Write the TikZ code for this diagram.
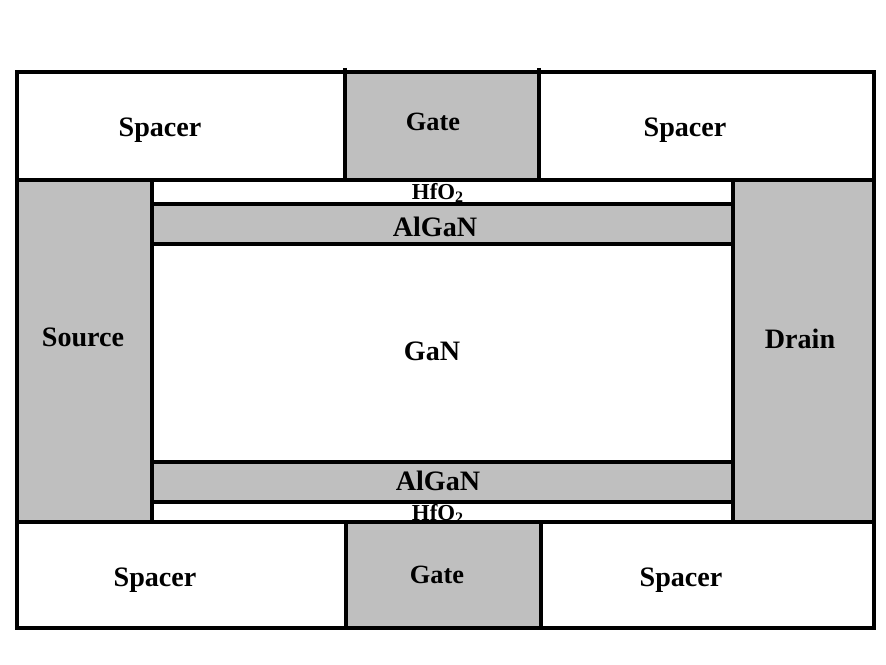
\documentclass[tikz,border=0pt]{standalone}
\usepackage{fontspec}
\setmainfont{Liberation Serif}
\definecolor{layergray}{gray}{0.75}
\tikzset{
  layer/.style={draw=black, line width=2.2pt, fill=layergray},
  blank/.style={draw=black, line width=2.2pt, fill=white},
  lab/.style={font=\bfseries\fontsize{16}{18}\selectfont, inner sep=0pt},
  gatelab/.style={font=\bfseries\fontsize{15}{17}\selectfont, inner sep=0pt},
  smalllab/.style={font=\bfseries\fontsize{13}{14}\selectfont, inner sep=0pt}
}

\begin{document}
\begin{tikzpicture}[x=0.02cm,y=-0.02cm]
\useasboundingbox (0,0) rectangle (886,665);

% top row
\draw [blank] (17,72) rectangle (345,180);
\draw [blank] (539,72) rectangle (874,180);
\draw [layer] (345,72) rectangle (539,180);
\draw [line width=2.2pt] (345,68) -- (345,72);
\draw [line width=2.2pt] (539,68) -- (539,72);

% contacts
\draw [layer] (17,180) rectangle (152,522);
\draw [layer] (733,180) rectangle (874,522);

% channel stack
\draw [blank] (152,180) rectangle (733,204);
\draw [layer] (152,204) rectangle (733,244);
\draw [blank] (152,244) rectangle (733,462);
\draw [layer] (152,462) rectangle (733,502);
\draw [blank] (152,502) rectangle (733,522);

% bottom row
\draw [blank] (17,522) rectangle (346,628);
\draw [blank] (541,522) rectangle (874,628);
\draw [layer] (346,522) rectangle (541,628);

% labels
\node [lab] (sp1) at (160,130) {Spacer};
\node [gatelab] (g1) at (433,122) {Gate};
\node [lab] (sp2) at (685,130) {Spacer};
\node [smalllab] (hf1) at (438,193) {HfO\textsubscript{2}};
\node [lab] (al1) at (435,227) {AlGaN};
\node [lab] (src) at (83,337) {Source};
\node [lab] (gan) at (432,351) {GaN};
\node [lab] (drn) at (800,339) {Drain};
\node [lab] (al2) at (438,481) {AlGaN};
\node [smalllab] (hf2) at (438,514) {HfO\textsubscript{2}};
\node [lab] (sp3) at (155,580) {Spacer};
\node [gatelab] (g2) at (437,575) {Gate};
\node [lab] (sp4) at (681,580) {Spacer};

\end{tikzpicture}
\end{document}
